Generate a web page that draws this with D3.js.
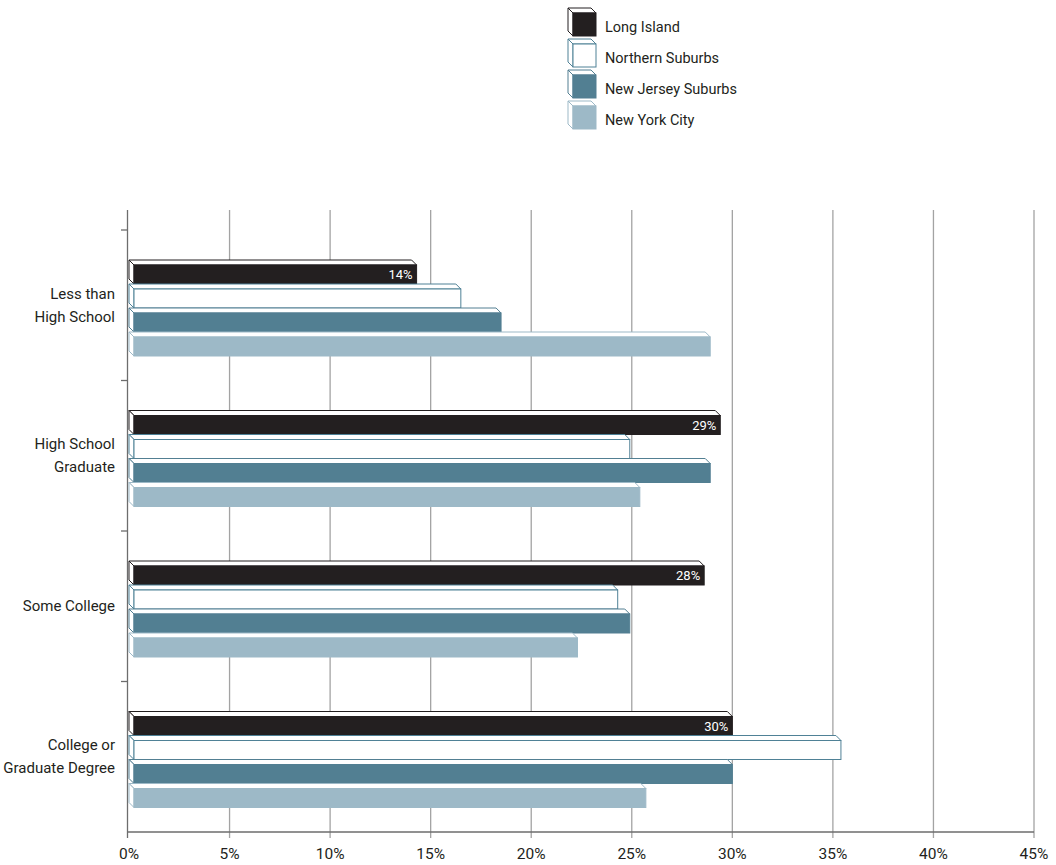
<!DOCTYPE html>
<html>
<head>
<meta charset="utf-8">
<script src="https://cdn.jsdelivr.net/npm/d3@7"></script>
<style>
  body { margin: 0; background: #fff; }
  text { font-family: "Roboto", "DejaVu Sans Condensed", sans-serif; font-weight: 400; fill: #231f20; }
</style>
</head>
<body>
<script>
// chart values
var categories = ["Less than|High School", "High School|Graduate", "Some College", "College or|Graduate Degree"];
var seriesNames = ["Long Island", "Northern Suburbs", "New Jersey Suburbs", "New York City"];
var longIsland = [14.3, 29.4, 28.6, 30.0];
var northernSuburbs = [16.5, 24.9, 24.3, 35.4];
var newJerseySuburbs = [18.5, 28.9, 24.9, 30.0];
var newYorkCity = [28.9, 25.4, 22.3, 25.7];
var xTicks = [0, 5, 10, 15, 20, 25, 30, 35, 40, 45];

var fills = ["#231f20", "#ffffff", "#527f92", "#9db9c7"];
var strokes = ["#231f20", "#4f8196", "#527f92", "#9db9c7"];

var values = [longIsland, northernSuburbs, newJerseySuburbs, newYorkCity];

var svg = d3.select("body").append("svg")
    .attr("width", 1056)
    .attr("height", 865);

var x = d3.scaleLinear().domain([0, 45]).range([129, 1034]);
var y = d3.scaleBand().domain(categories).range([230, 832]);
var inner = d3.scaleBand().domain(seriesNames).range([30, 126]);

var yTop = 210, yBottom = 832, dx = 5, dy = 5;

// gridlines
svg.append("g").selectAll("line")
    .data(xTicks.slice(1))
    .enter().append("line")
    .attr("x1", function (d) { return x(d); })
    .attr("x2", function (d) { return x(d); })
    .attr("y1", yTop)
    .attr("y2", yBottom + 6)
    .attr("stroke", "#a3a3a3")
    .attr("stroke-width", 1.3);

// axes lines
svg.append("line")
    .attr("x1", 127.5).attr("x2", 127.5)
    .attr("y1", yTop).attr("y2", yBottom + 6)
    .attr("stroke", "#6d6d6d").attr("stroke-width", 1.3);
svg.append("line")
    .attr("x1", 127).attr("x2", x(45))
    .attr("y1", yBottom).attr("y2", yBottom)
    .attr("stroke", "#6d6d6d").attr("stroke-width", 1.3);

// y ticks at band edges
svg.append("g").selectAll("line")
    .data(categories)
    .enter().append("line")
    .attr("x1", 121).attr("x2", 127.5)
    .attr("y1", function (d) { return y(d); })
    .attr("y2", function (d) { return y(d); })
    .attr("stroke", "#6d6d6d").attr("stroke-width", 1.3);

// x tick labels
svg.append("g").selectAll("text")
    .data(xTicks)
    .enter().append("text")
    .attr("x", function (d) { return x(d); })
    .attr("y", 859)
    .attr("text-anchor", "middle")
    .style("font-size", "15.5px")
    .text(function (d) { return d + "%"; });

// category labels
var catLabel = svg.append("g").selectAll("text")
    .data(categories)
    .enter().append("text")
    .attr("text-anchor", "end")
    .style("font-size", "15px")
    .attr("transform", function (d) {
        return "translate(115," + (y(d) + y.bandwidth() / 2 + 5) + ")";
    });
catLabel.selectAll("tspan")
    .data(function (d) {
        var parts = d.split("|");
        return parts.map(function (p, i) { return { t: p, dy: (i - (parts.length - 1) / 2) * 23 }; });
    })
    .enter().append("tspan")
    .attr("x", 0)
    .attr("y", function (d) { return d.dy; })
    .text(function (d) { return d.t; });

// 3d bars
var rows = [];
categories.forEach(function (c, ci) {
    seriesNames.forEach(function (s, si) {
        rows.push({ cat: c, series: s, si: si, v: values[si][ci] });
    });
});

var bar = svg.append("g").selectAll("g")
    .data(rows)
    .enter().append("g")
    .attr("transform", function (d) {
        return "translate(0," + (y(d.cat) + inner(d.series)) + ")";
    });

var h = inner.bandwidth() - dy;
bar.append("polygon")
    .attr("points", function (d) {
        var x0 = x(0), x1 = x(d.v);
        return [[x0, 0], [x1 - dx, 0], [x1, dy], [x0 + dx, dy]].join(" ");
    })
    .attr("fill", "#fff")
    .attr("stroke", function (d) { return strokes[d.si]; })
    .attr("stroke-width", 1);
bar.append("polygon")
    .attr("points", function (d) {
        var x0 = x(0);
        return [[x0, 0], [x0 + dx, dy], [x0 + dx, dy + h], [x0, h]].join(" ");
    })
    .attr("fill", "#fff")
    .attr("stroke", function (d) { return strokes[d.si]; })
    .attr("stroke-width", 1);
bar.append("rect")
    .attr("x", x(0) + dx)
    .attr("y", dy)
    .attr("width", function (d) { return x(d.v) - x(0) - dx; })
    .attr("height", h)
    .attr("fill", function (d) { return fills[d.si]; })
    .attr("stroke", function (d) { return strokes[d.si]; })
    .attr("stroke-width", 1);

// value labels on Long Island bars
bar.filter(function (d) { return d.si === 0; })
    .append("text")
    .attr("x", function (d) { return x(d.v) - 4; })
    .attr("y", dy + h / 2 + 4.5)
    .attr("text-anchor", "end")
    .style("font-size", "13px")
    .style("fill", "#ffffff")
    .text(function (d) { return Math.floor(d.v) + "%"; });

// legend
var legend = svg.append("g").selectAll("g")
    .data(seriesNames)
    .enter().append("g")
    .attr("transform", function (d, i) { return "translate(568," + (8 + i * 31) + ")"; });

var ls = 23;
legend.append("polygon")
    .attr("points", [[0, 0], [ls, 0], [ls + dx, dy], [dx, dy]].join(" "))
    .attr("fill", "#fff")
    .attr("stroke", function (d, i) { return strokes[i]; });
legend.append("polygon")
    .attr("points", [[0, 0], [dx, dy], [dx, dy + ls], [0, ls]].join(" "))
    .attr("fill", "#fff")
    .attr("stroke", function (d, i) { return strokes[i]; });
legend.append("rect")
    .attr("x", dx).attr("y", dy)
    .attr("width", ls).attr("height", ls)
    .attr("fill", function (d, i) { return fills[i]; })
    .attr("stroke", function (d, i) { return strokes[i]; });
legend.append("text")
    .attr("x", 37)
    .attr("y", 24)
    .style("font-size", "14.5px")
    .text(function (d) { return d; });
</script>
</body>
</html>
